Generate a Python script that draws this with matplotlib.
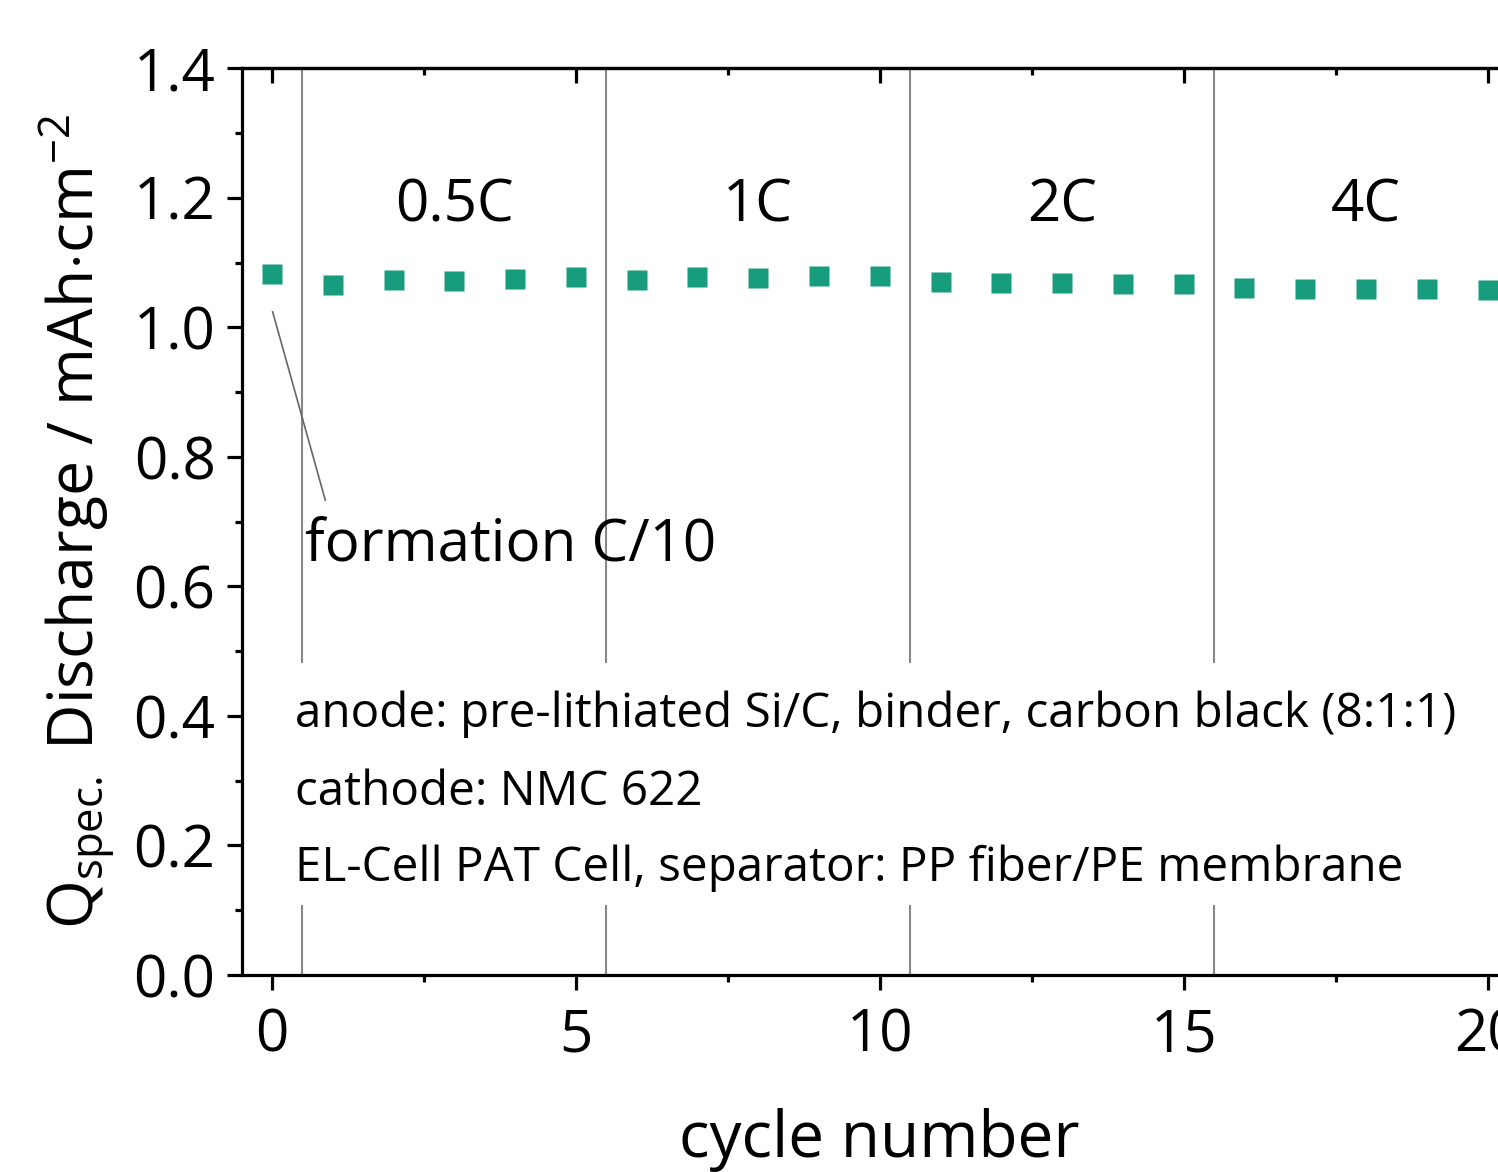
import matplotlib.pyplot as plt
from matplotlib.ticker import MultipleLocator

plt.rcParams['font.family'] = ['Open Sans', 'DejaVu Sans']
plt.rcParams['mathtext.fontset'] = 'custom'
plt.rcParams['mathtext.rm'] = 'Open Sans'
plt.rcParams['mathtext.it'] = 'Open Sans'

# data
cycles = list(range(21))
capacity = [1.083, 1.065, 1.073, 1.071, 1.074, 1.077, 1.073, 1.077, 1.076, 1.079,
            1.079, 1.070, 1.068, 1.068, 1.067, 1.067, 1.060, 1.059, 1.059, 1.059,
            1.057]
rate_labels = ['0.5C', '1C', '2C', '4C']
rate_centers = [3, 8, 13, 18]
rate_bounds = [0.5, 5.5, 10.5, 15.5]
info_lines = ['anode: pre-lithiated Si/C, binder, carbon black (8:1:1)',
              'cathode: NMC 622',
              'EL-Cell PAT Cell, separator: PP fiber/PE membrane']
info_y = [0.383, 0.2625, 0.145]

green = '#179c7d'
lw = 2.3

fig = plt.figure(figsize=(14.98, 11.72), dpi=100)
ax = fig.add_axes([0.1613, 0.1681, 0.852, 0.7737])

# rate step separators, broken where the info text sits
ax.vlines(rate_bounds, 0.482, 1.4, color='#888888', lw=1.5, zorder=1)
ax.vlines(rate_bounds, 0.0, 0.108, color='#888888', lw=1.5, zorder=1)

ax.plot(cycles, capacity, 's', color=green, ms=13.7, mec='none', zorder=3)

for lab, xc in zip(rate_labels, rate_centers):
    ax.text(xc, 1.164, lab, ha='center', va='baseline', fontsize=42)

ax.plot([0.01, 0.877], [1.024, 0.733], color='#666666', lw=1.2)
ax.text(0.55, 0.638, 'formation C/10', ha='left', va='baseline', fontsize=42)

for line, yy in zip(info_lines, info_y):
    ax.text(0.37, yy, line, ha='left', va='baseline', fontsize=34.3)

ax.set_xlim(-0.5, 20.5)
ax.set_ylim(0, 1.4)
ax.xaxis.set_major_locator(MultipleLocator(5))
ax.xaxis.set_minor_locator(MultipleLocator(2.5))
ax.yaxis.set_major_locator(MultipleLocator(0.2))
ax.yaxis.set_minor_locator(MultipleLocator(0.1))
ax.yaxis.set_major_formatter(plt.FormatStrFormatter('%.1f'))

ax.tick_params(which='both', direction='out', width=lw, top=False, right=False,
               labelsize=42)
ax.tick_params(which='major', length=10.8)
ax.tick_params(which='minor', length=5)
ax.tick_params(axis='x', pad=12)
ax.tick_params(axis='y', pad=8)

top = ax.secondary_xaxis('top')
top.xaxis.set_major_locator(MultipleLocator(5))
top.xaxis.set_minor_locator(MultipleLocator(2.5))
top.tick_params(which='both', direction='in', width=lw, labeltop=False)
top.tick_params(which='major', length=10.8)
top.tick_params(which='minor', length=5)
top.spines['top'].set_linewidth(lw)

for s in ax.spines.values():
    s.set_linewidth(lw)

ax.set_xlabel('cycle number', fontsize=46, labelpad=31)
ax.set_ylabel(r'Q$_{\mathregular{spec.}}$ Discharge / mAh$\cdot$cm$^{\mathregular{-2}}$',
              fontsize=45, labelpad=12)

fig.savefig('out.png', dpi=100)
